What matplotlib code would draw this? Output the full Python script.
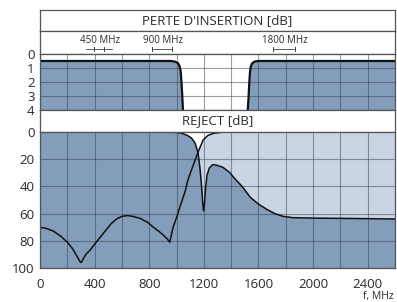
import matplotlib
matplotlib.use('agg')
import matplotlib.pyplot as plt

plt.rcParams['font.family'] = ['Open Sans', 'DejaVu Sans']

# insertion loss, low-pass port (MHz, dB)
il_lo_f = [0, 960, 990, 1010, 1022, 1030, 1036, 1042, 1047]
il_lo_db = [0.5, 0.5, 0.55, 0.65, 0.85, 1.2, 2.0, 3.0, 4.0]
# insertion loss, high-pass port
il_hi_f = [1522, 1528, 1533, 1538, 1545, 1555, 1575, 1600, 2600]
il_hi_db = [4.0, 3.0, 2.0, 1.3, 0.85, 0.65, 0.53, 0.5, 0.5]

# reject curve A (low-pass port)
rej_a_f = [0, 900, 1000, 1040, 1080, 1110, 1135, 1157, 1172, 1185, 1193, 1198,
           1203, 1212, 1223, 1240, 1265, 1290, 1340, 1392, 1415, 1480, 1540,
           1600, 1663, 1720, 1780, 1850, 2000, 2300, 2600]
rej_a_db = [0, 0, 0.3, 1, 2.5, 4.5, 8, 15, 27, 42, 54, 58,
            55, 42, 32, 26.5, 24, 24.3, 26, 30, 33, 40, 48,
            53, 57, 60, 62, 63, 63.3, 63.6, 64]

# reject curve B (high-pass port)
rej_b_f = [0, 50, 100, 150, 200, 240, 260, 280, 293, 300, 307, 320, 340, 366,
           400, 440, 480, 520, 560, 600, 640, 680, 733, 790, 830, 870, 905,
           935, 950, 975, 1000, 1025, 1062, 1084, 1120, 1157, 1194, 1230, 1270,
           1330, 1400, 2600]
rej_b_db = [70, 71, 73, 76.5, 81, 86, 89.5, 93, 95.3, 96, 95.3, 92.5, 89.5, 87,
            82.5, 77.5, 72.5, 67.5, 64, 62, 61.5, 62, 63.5, 66.5, 70, 73, 76,
            79, 81, 70, 63, 55, 44, 35, 25, 15, 6, 2.5, 1,
            0.2, 0, 0]

bands = [(395, 470, 440, '450 MHz'), (820, 965, 900, '900 MHz'),
         (1710, 1870, 1795, '1800 MHz')]

x_ticks = [0, 400, 800, 1200, 1600, 2000, 2400]
top_ticks = [0, 1, 2, 3, 4]
bot_ticks = [0, 20, 40, 60, 80, 100]

dark = '#849dbb'
light = '#c9d5e5'
edge = '#555555'
txt = '#2a2a2a'

W, H = 397, 302


def box(y0, y1):
    return [40 / W, 1 - y1 / H, 355 / W, (y1 - y0) / H]


fig = plt.figure(figsize=(W / 100, H / 100), dpi=100)

head1 = fig.add_axes(box(10, 31))
band = fig.add_axes(box(31, 54))
top = fig.add_axes(box(54, 110))
head2 = fig.add_axes(box(110, 132))
bot = fig.add_axes(box(132, 268))

for a in (head1, band, top, head2, bot):
    a.set_xlim(0, 2600)
    for s in a.spines.values():
        s.set_color(edge)
        s.set_linewidth(0.9)

for a in (head1, band, head2):
    a.set_xticks([])
    a.set_yticks([])

head1.text(0.5, 0.5, "PERTE D'INSERTION [dB]", transform=head1.transAxes,
           ha='center', va='center', fontsize=9.5, color=txt)
head2.text(0.5, 0.5, "REJECT [dB]", transform=head2.transAxes,
           ha='center', va='center', fontsize=9.5, color=txt)

band.set_ylim(0, 1)
for lo, hi, mid, lab in bands:
    band.text(mid, 0.6, lab, ha='center', va='center', fontsize=7, color=txt)
    for xv in (lo, hi):
        band.plot([xv, xv], [0.12, 0.32], color='#444444', lw=0.7)
    if hi - lo < 100:
        band.plot([lo - 60, hi + 60], [0.22, 0.22], color='#444444', lw=0.6)
    else:
        band.plot([lo, hi], [0.22, 0.22], color='#444444', lw=0.6)

# insertion loss panel
top.set_ylim(4, 0)
top.fill_between(il_lo_f, il_lo_db, 4, color=dark, lw=0)
top.fill_between(il_hi_f, il_hi_db, 4, color=dark, lw=0)
top.plot(il_lo_f, il_lo_db, color='#111111', lw=1.6)
top.plot(il_hi_f, il_hi_db, color='#111111', lw=1.6)
top.set_yticks(top_ticks)
top.set_xticks(range(0, 2601, 200))
top.set_xticklabels([])
top.grid(True, color='#33404d', alpha=0.5, lw=0.8)
top.tick_params(length=0, labelsize=9.5, labelcolor=txt, pad=4)

# reject panel
bot.set_ylim(100, 0)
bot.fill_between(rej_b_f, rej_b_db, 100, color=light, lw=0)
bot.fill_between(rej_a_f, rej_a_db, 100, color=dark, lw=0)
bot.plot(rej_a_f, rej_a_db, color='#111111', lw=1.1)
bot.plot(rej_b_f, rej_b_db, color='#111111', lw=1.1)
bot.set_yticks(bot_ticks)
bot.set_xticks(range(0, 2601, 200))
bot.set_xticklabels([str(v) if v in x_ticks else '' for v in range(0, 2601, 200)])
bot.grid(True, color='#33404d', alpha=0.5, lw=0.8)
bot.tick_params(length=0, labelsize=9.5, labelcolor=txt, pad=4)
bot.tick_params(axis='x', pad=7)

fig.text(394 / W, 1 - 296 / H, 'f, MHz', ha='right', va='center',
         fontsize=7.5, color=txt)

plt.savefig('out.png', dpi=100)
plt.close()
